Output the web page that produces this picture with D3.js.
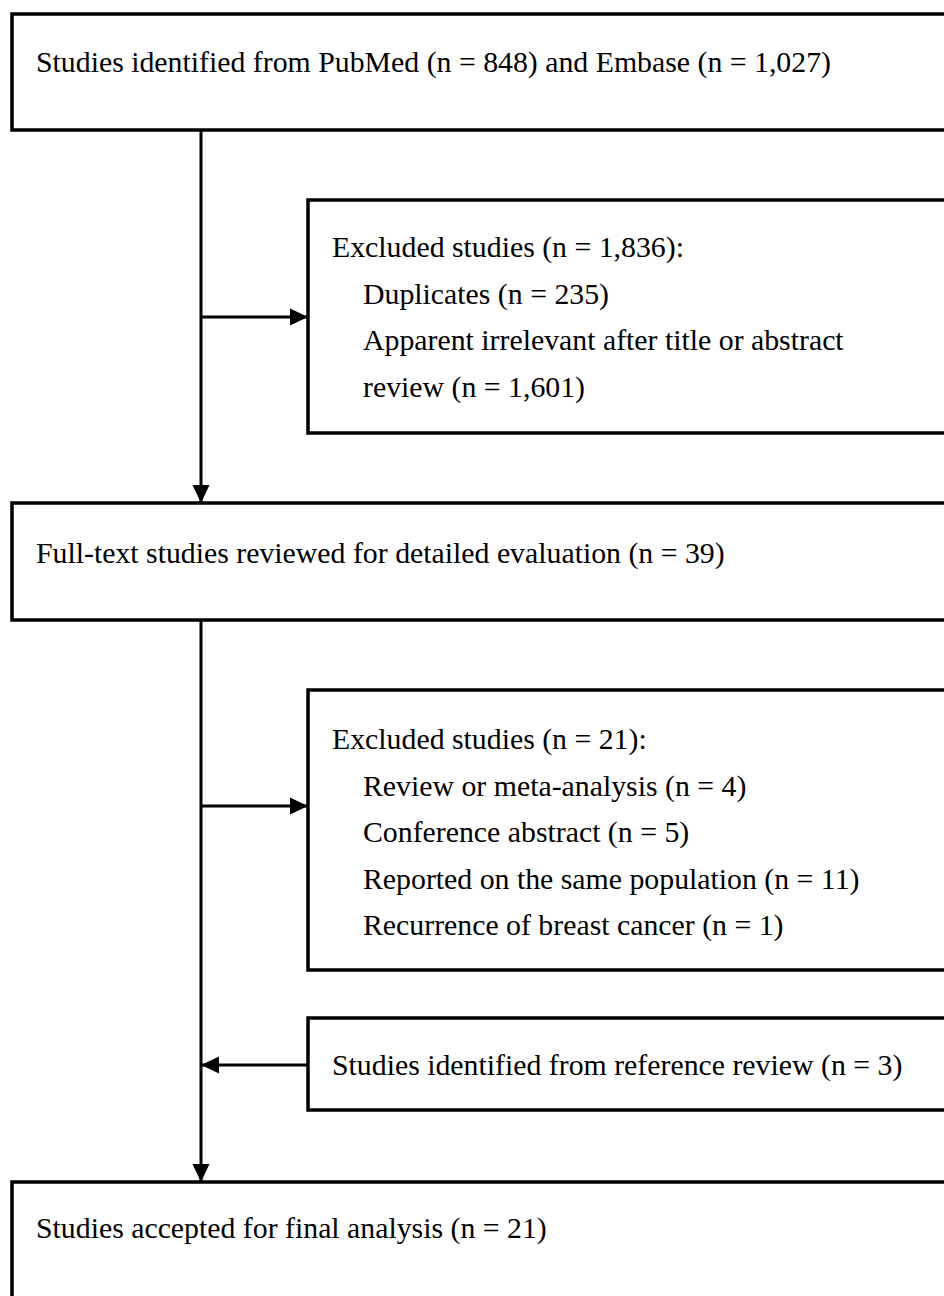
<!DOCTYPE html>
<html>
<head>
<meta charset="utf-8">
<script src="https://cdn.jsdelivr.net/npm/d3@7.9.0/dist/d3.min.js"></script>
<style>
  html, body { margin: 0; padding: 0; background: #fff; overflow: hidden; }
  svg { display: block; }
  text { font-family: "Liberation Serif", "Times New Roman", serif; font-size: 29.8px; fill: #000; }
</style>
</head>
<body>
<svg width="944" height="1296"></svg>
<script>
// box texts: first line is the heading, the rest are indented sub-items
const identifiedText = ['Studies identified from PubMed (n = 848) and Embase (n = 1,027)'];
const excluded1Text = ['Excluded studies (n = 1,836):', 'Duplicates (n = 235)',
  'Apparent irrelevant after title or abstract', 'review (n = 1,601)'];
const fullTextText = ['Full-text studies reviewed for detailed evaluation (n = 39)'];
const excluded2Text = ['Excluded studies (n = 21):', 'Review or meta-analysis (n = 4)',
  'Conference abstract (n = 5)', 'Reported on the same population (n = 11)',
  'Recurrence of breast cancer (n = 1)'];
const referenceText = ['Studies identified from reference review (n = 3)'];
const acceptedText = ['Studies accepted for final analysis (n = 21)'];

// layout
const mainX = 12, sideX = 308, spineX = 201, boxW = 1000;
const lineH = 46.5;
const boxes = [
  { lines: identifiedText, x: mainX, y: 14, h: 116, base: 72 },
  { lines: excluded1Text, x: sideX, y: 200, h: 233, base: 257 },
  { lines: fullTextText, x: mainX, y: 503, h: 117, base: 563 },
  { lines: excluded2Text, x: sideX, y: 690, h: 280, base: 749 },
  { lines: referenceText, x: sideX, y: 1018, h: 92, base: 1075 },
  { lines: acceptedText, x: mainX, y: 1182, h: 200, base: 1238 }
];

const svg = d3.select('svg');

const g = svg.selectAll('g.box')
  .data(boxes)
  .join('g')
  .attr('class', 'box');

g.append('rect')
  .attr('x', d => d.x)
  .attr('y', d => d.y)
  .attr('width', boxW)
  .attr('height', d => d.h)
  .attr('fill', '#fff')
  .attr('stroke', '#000')
  .attr('stroke-width', 3.5);

g.each(function (d) {
  d3.select(this).selectAll('text')
    .data(d.lines)
    .join('text')
    .attr('x', (t, i) => d.x + (i === 0 ? 24 : 55))
    .attr('y', (t, i) => d.base + i * lineH)
    .text(t => t);
});

// connectors
const arrowLen = 18, arrowHalf = 8.5;
const links = [
  { x1: spineX, y1: 130, x2: spineX, y2: 503 },
  { x1: spineX, y1: 620, x2: spineX, y2: 1182 },
  { x1: spineX, y1: 317, x2: sideX, y2: 317 },
  { x1: spineX, y1: 806, x2: sideX, y2: 806 },
  { x1: sideX, y1: 1065, x2: spineX, y2: 1065 }
];

svg.selectAll('line.link')
  .data(links)
  .join('line')
  .attr('class', 'link')
  .attr('x1', d => d.x1).attr('y1', d => d.y1)
  .attr('x2', d => d.x2).attr('y2', d => d.y2)
  .attr('stroke', '#000')
  .attr('stroke-width', 3);

svg.selectAll('path.head')
  .data(links)
  .join('path')
  .attr('class', 'head')
  .attr('d', d => {
    const a = Math.atan2(d.y2 - d.y1, d.x2 - d.x1);
    const bx = d.x2 - arrowLen * Math.cos(a), by = d.y2 - arrowLen * Math.sin(a);
    const px = -Math.sin(a) * arrowHalf, py = Math.cos(a) * arrowHalf;
    return `M${d.x2},${d.y2}L${bx + px},${by + py}L${bx - px},${by - py}Z`;
  })
  .attr('fill', '#000');
</script>
</body>
</html>
